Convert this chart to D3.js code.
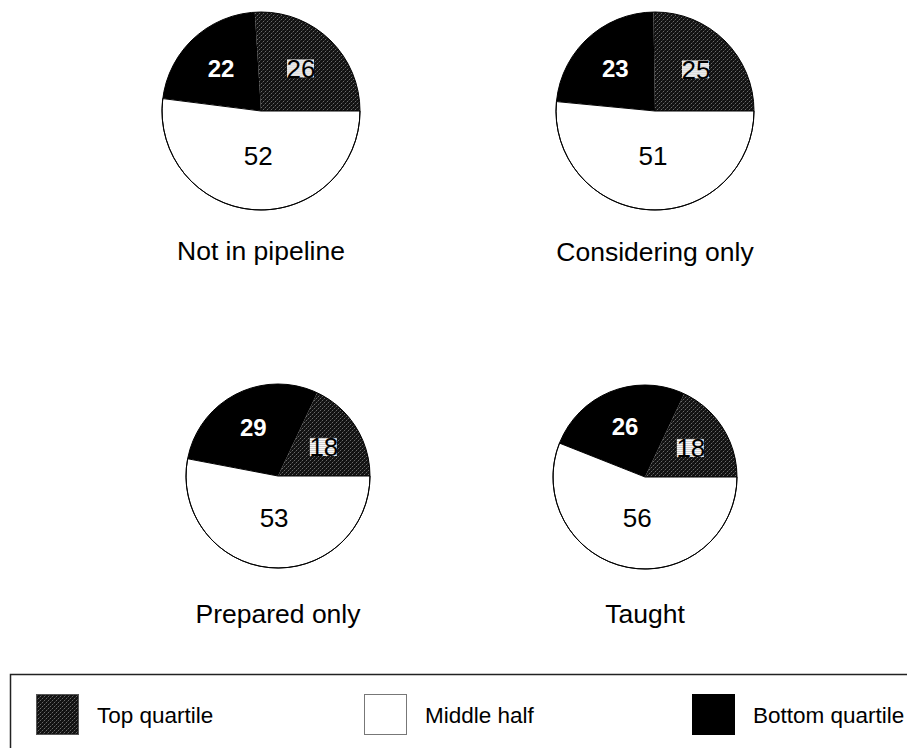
<!DOCTYPE html>
<html>
<head>
<meta charset="utf-8">
<script src="https://cdn.jsdelivr.net/npm/d3@7"></script>
<style>
  html, body { margin: 0; padding: 0; background: #fff; }
  svg { display: block; font-family: Arial, "Liberation Sans", Helvetica, sans-serif; }
</style>
</head>
<body>
<svg id="chart" width="907" height="748"></svg>
<script>
// Share of each group by quartile (percent)
const groups = ["Not in pipeline", "Considering only", "Prepared only", "Taught"];
const seriesNames = ["Top quartile", "Middle half", "Bottom quartile"];
const topQuartile = [26, 25, 18, 18];
const middleHalf = [52, 51, 53, 56];
const bottomQuartile = [22, 23, 29, 26];

// Panel geometry (centre and radius of each pie, title baseline)
const panels = [
  { cx: 261, cy: 111, r: 99, ty: 260 },
  { cx: 655, cy: 111, r: 99, ty: 261 },
  { cx: 278, cy: 476, r: 92, ty: 623 },
  { cx: 645, cy: 477, r: 92, ty: 623 }
];

const svg = d3.select("#chart");
const defs = svg.append("defs");

// Dark dithered fill for the top quartile
const dots = defs.append("pattern")
  .attr("id", "dither").attr("patternUnits", "userSpaceOnUse")
  .attr("width", 4).attr("height", 4);
dots.append("rect").attr("width", 4).attr("height", 4).attr("fill", "#121212");
dots.append("rect").attr("x", 0).attr("y", 0).attr("width", 1).attr("height", 1).attr("fill", "#6a6a6a");
dots.append("rect").attr("x", 2).attr("y", 2).attr("width", 1).attr("height", 1).attr("fill", "#6a6a6a");
dots.append("rect").attr("x", 1).attr("y", 3).attr("width", 1).attr("height", 1).attr("fill", "#333");
dots.append("rect").attr("x", 3).attr("y", 1).attr("width", 1).attr("height", 1).attr("fill", "#333");

// Light striped backdrop for labels sitting on the dithered slice
const stripes = defs.append("pattern")
  .attr("id", "stripes").attr("patternUnits", "userSpaceOnUse")
  .attr("width", 4).attr("height", 2);
stripes.append("rect").attr("width", 4).attr("height", 2).attr("fill", "#ffffff");
stripes.append("rect").attr("y", 1).attr("width", 4).attr("height", 1).attr("fill", "#c8c8c8");

const fills = {
  "Top quartile": "url(#dither)",
  "Middle half": "#ffffff",
  "Bottom quartile": "#000000"
};

// Slices run counter-clockwise from three o'clock: top, bottom, then middle
const sliceOrder = ["Top quartile", "Bottom quartile", "Middle half"];
const pie = d3.pie()
  .sort(null)
  .value(d => d.value)
  .startAngle(Math.PI / 2)
  .endAngle(Math.PI / 2 - 2 * Math.PI);

groups.forEach((g, i) => {
  const p = panels[i];
  const values = {
    "Top quartile": topQuartile[i],
    "Middle half": middleHalf[i],
    "Bottom quartile": bottomQuartile[i]
  };
  const data = sliceOrder.map(k => ({ key: k, value: values[k] }));
  const arcs = pie(data);
  const arc = d3.arc().innerRadius(0).outerRadius(p.r);

  const gp = svg.append("g").attr("transform", `translate(${p.cx},${p.cy})`);

  gp.selectAll("path.slice").data(arcs).join("path")
    .attr("class", "slice")
    .attr("d", arc)
    .attr("fill", d => fills[d.data.key])
    .attr("stroke", d => d.data.key === "Middle half" ? "#000" : "none")
    .attr("stroke-width", 1);

  gp.append("circle").attr("r", p.r).attr("fill", "none")
    .attr("stroke", "#000").attr("stroke-width", 1);

  arcs.forEach(d => {
    const mid = (d.startAngle + d.endAngle) / 2;
    // screen direction of the slice centre
    const sx = Math.sin(mid), sy = -Math.cos(mid);
    const f = sy < 0 ? 0.59 : 0.59 - 0.14 * sy;
    const x = sx * p.r * f, y = sy * p.r * f;
    const lab = gp.append("g").attr("transform", `translate(${x},${y})`);
    if (d.data.key === "Top quartile") {
      lab.append("rect").attr("x", -14).attr("y", -9).attr("width", 27).attr("height", 18)
        .attr("fill", "url(#stripes)");
    }
    lab.append("text")
      .attr("text-anchor", "middle")
      .attr("dy", "0.36em")
      .attr("font-size", d.data.key === "Bottom quartile" ? 24 : 26)
      .attr("font-weight", d.data.key === "Bottom quartile" ? "bold" : "normal")
      .attr("fill", d.data.key === "Bottom quartile" ? "#fff" : "#000")
      .text(d.data.value);
  });

  svg.append("text")
    .attr("x", p.cx).attr("y", p.ty)
    .attr("text-anchor", "middle")
    .attr("font-size", 26.5)
    .attr("fill", "#000")
    .text(g);
});

// Legend
const legend = svg.append("g");
legend.append("rect")
  .attr("x", 10.5).attr("y", 674.5).attr("width", 920).attr("height", 100)
  .attr("fill", "#fff").attr("stroke", "#222").attr("stroke-width", 1.5);

const legendX = d3.scalePoint().domain(seriesNames).range([36, 692]);
seriesNames.forEach(s => {
  const x = legendX(s);
  legend.append("rect")
    .attr("x", x + 0.5).attr("y", 694.5).attr("width", 42).attr("height", 40)
    .attr("fill", fills[s])
    .attr("stroke", s === "Middle half" ? "#777" : (s === "Top quartile" ? "#555" : "#000"))
    .attr("stroke-width", 1);
  legend.append("text")
    .attr("x", x + 61).attr("y", 723)
    .attr("font-size", 22.5)
    .attr("fill", "#000")
    .text(s);
});
</script>
</body>
</html>
